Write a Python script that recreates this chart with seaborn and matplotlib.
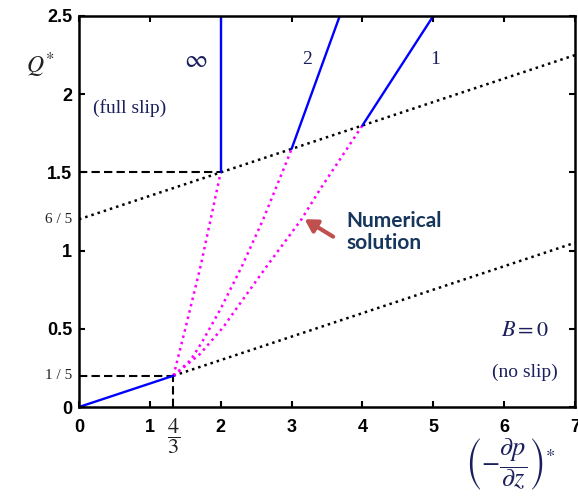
import numpy as np
import pandas as pd
import matplotlib
matplotlib.use("Agg")
import matplotlib.pyplot as plt
import seaborn as sns

# Limits of the two flow regimes: Q* = 6/5 + 0.15 G (full slip), Q* = 0.15 G (no slip)
slope = 0.15
full_slip_q0 = 1.2
G_range = [0.0, 7.0]
no_slip_G = [4 / 3, 7.0]

# Analytical branches for B = inf, 2, 1 (start point on the full-slip line, end point)
blue_inf_G = [2.0, 2.0]
blue_inf_Q = [1.5, 2.5]
blue_2_G = [3.0, 3.68]
blue_2_Q = [1.65, 2.5]
blue_1_G = [4.0, 5.0]
blue_1_Q = [1.8, 2.5]
blue_low_G = [0.0, 4 / 3]
blue_low_Q = [0.0, 0.2]

# Numerical solutions between the two limits
num_inf_G = [4 / 3, 1.5, 1.716, 2.0]
num_inf_Q = [0.2, 0.5, 0.9, 1.5]
num_2_G = [4 / 3, 1.575, 1.73, 1.99, 2.30, 2.60, 2.94, 3.0]
num_2_Q = [0.2, 0.30, 0.41, 0.62, 0.90, 1.20, 1.58, 1.65]
num_1_G = [4 / 3, 1.71, 2.035, 2.27, 2.65, 3.14, 3.40, 4.0]
num_1_Q = [0.2, 0.34, 0.51, 0.66, 0.90, 1.20, 1.39, 1.8]

x_ticks = [0, 1, 2, 3, 4, 5, 6, 7]
y_ticks = [0, 0.5, 1, 1.5, 2, 2.5]
y_tick_labels = ["0", "0.5", "1", "1.5", "2", "2.5"]

sns.set_theme(style="ticks")
plt.rcParams["font.family"] = ["Liberation Sans", "DejaVu Sans"]
plt.rcParams["mathtext.fontset"] = "stix"

fig = plt.figure(figsize=(5.78, 5.0), dpi=100)
ax = fig.add_axes([0.1367, 0.186, 0.858, 0.782])

navy = "#1b1f5c"
blue = "#0000ff"
magenta = "#ff00ff"


def line(xs, ys, **kw):
    sns.lineplot(x=xs, y=ys, ax=ax, estimator=None, sort=False, **kw)


# Limit lines (dotted black)
line(G_range, [full_slip_q0 + slope * g for g in G_range],
     color="black", lw=1.8, linestyle=(0, (1, 1.6)))
line(no_slip_G, [slope * g for g in no_slip_G],
     color="black", lw=1.8, linestyle=(0, (1, 1.6)))

# Numerical solutions (dotted magenta)
for gx, qy in [(num_inf_G, num_inf_Q), (num_2_G, num_2_Q), (num_1_G, num_1_Q)]:
    line(gx, qy, color=magenta, lw=1.8, linestyle=(0, (1, 1.6)))

# Guide lines (dashed black)
line([0, 2], [1.5, 1.5], color="black", lw=1.5, linestyle=(0, (4, 2)))
line([0, 4 / 3], [0.2, 0.2], color="black", lw=1.5, linestyle=(0, (4, 2)))
line([4 / 3, 4 / 3], [0, 0.2], color="black", lw=1.5, linestyle=(0, (4, 2)))

# Analytical branches (solid blue)
for gx, qy in [(blue_low_G, blue_low_Q), (blue_inf_G, blue_inf_Q),
               (blue_2_G, blue_2_Q), (blue_1_G, blue_1_Q)]:
    line(gx, qy, color=blue, lw=1.7)

ax.set_xlim(0, 7)
ax.set_ylim(0, 2.5)
ax.set_xticks(x_ticks)
ax.set_xticklabels([str(t) for t in x_ticks], fontweight="bold", fontsize=13)
ax.set_yticks(y_ticks)
ax.set_yticklabels(y_tick_labels, fontweight="bold", fontsize=13)
ax.tick_params(direction="in", length=4, width=1.5, top=True, right=True,
               colors="black")
ax.tick_params(axis="x", pad=9)
ax.tick_params(axis="y", pad=5)
for s in ax.spines.values():
    s.set_linewidth(1.8)
    s.set_color("black")
ax.set_xlabel("")
ax.set_ylabel("")

serif = ["Liberation Serif", "DejaVu Serif"]

# Extra tick annotations
ax.text(-0.09, 1.2, "6 / 5", ha="right", va="center", fontsize=11,
        family=serif, color="#222222")
ax.text(-0.09, 0.2, "1 / 5", ha="right", va="center", fontsize=11,
        family=serif, color="#222222")
ax.text(4 / 3, -0.06, r"$\dfrac{4}{3}$", ha="center", va="top", fontsize=16,
        color="#222222")

# Branch labels
ax.text(1.65, 2.22, r"$\infty$", ha="center", va="center", fontsize=18, color=navy)
ax.text(3.22, 2.22, "2", ha="center", va="center", fontsize=14, family=serif, color=navy)
ax.text(5.02, 2.22, "1", ha="center", va="center", fontsize=14, family=serif, color=navy)
ax.text(0.72, 1.91, "(full slip)", ha="center", va="center", fontsize=14,
        family=serif, color=navy)
ax.text(6.29, 0.49, r"$B = 0$", ha="center", va="center", fontsize=16, color=navy)
ax.text(6.29, 0.22, "(no slip)", ha="center", va="center", fontsize=14,
        family=serif, color=navy)

# Callout for the numerical curves
ax.text(3.78, 1.12, "Numerical\nsolution", ha="left", va="center", fontsize=15,
        fontweight="bold", family=["Lato", "DejaVu Sans"], color="#17365d",
        linespacing=1.1)
ax.annotate("", xy=(3.15, 1.21), xytext=(3.62, 1.08),
            arrowprops=dict(arrowstyle="-|>,head_length=0.6,head_width=0.35",
                            color="#c0504d", lw=3))

# Axis titles
fig.text(40 / 578, 1 - 65 / 500, r"$Q^{*}$", ha="center", va="center",
         fontsize=17, color="#222222")
fig.text(510 / 578, 1 - 464 / 500,
         r"$\left(-\dfrac{\partial p}{\partial z}\right)^{*}$",
         ha="center", va="center", fontsize=19, color=navy)

fig.savefig("out.png", dpi=100)
